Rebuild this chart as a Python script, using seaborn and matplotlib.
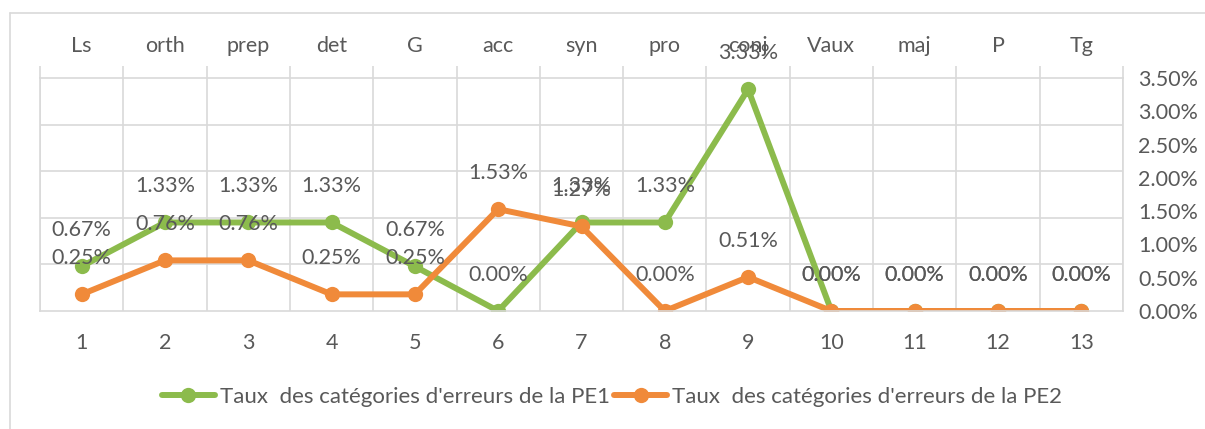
import numpy as np
import pandas as pd
import matplotlib
matplotlib.use("Agg")
import matplotlib.pyplot as plt
from matplotlib.lines import Line2D
from matplotlib.ticker import PercentFormatter
import seaborn as sns

# categories (top axis) and positions (bottom axis)
categories = ["Ls", "orth", "prep", "det", "G", "acc", "syn", "pro", "conj", "Vaux", "maj", "P", "Tg"]
positions = list(range(1, 14))

# rates, in %
pe1 = [0.67, 1.33, 1.33, 1.33, 0.67, 0.00, 1.33, 1.33, 3.33, 0.00, 0.00, 0.00, 0.00]
pe2 = [0.25, 0.76, 0.76, 0.25, 0.25, 1.53, 1.27, 0.00, 0.51, 0.00, 0.00, 0.00, 0.00]

series_names = ["Taux  des catégories d'erreurs de la PE1",
                "Taux  des catégories d'erreurs de la PE2"]

green = "#8cbb4c"
orange = "#f08a3a"
grey_txt = "#595959"
grid_col = "#d9d9d9"
fs = 15.5

df = pd.DataFrame({
    "pos": positions * 2,
    "taux": [v / 100 for v in pe1 + pe2],
    "serie": [series_names[0]] * 13 + [series_names[1]] * 13,
})

sns.set_style("white")
plt.rcParams["font.family"] = ["Lato", "DejaVu Sans"]
plt.rcParams["font.size"] = fs

fig = plt.figure(figsize=(12.05, 4.29), dpi=100)
ax = fig.add_axes([40 / 1205, 1 - 311 / 429, (1123 - 40) / 1205, (311 - 78) / 429])

sns.lineplot(data=df, x="pos", y="taux", hue="serie", palette=[green, orange],
             marker="o", markersize=11, markeredgewidth=0, linewidth=4.3,
             legend=False, ax=ax)

# data labels above the points
for vals in [pe1, pe2]:
    for x, v in zip(positions, vals):
        ax.annotate(f"{v:.2f}%", (x, v / 100), xytext=(0, 26), textcoords="offset points",
                    ha="center", va="center", color=grey_txt, fontsize=fs, zorder=5)

ax.set_xlim(0.5, 13.5)
ax.set_ylim(0, 0.035)

# bottom axis: numbers at centres, tick marks at boundaries
bounds = np.arange(0.5, 13.6, 1)
ax.set_xticks(positions)
ax.set_xticklabels([str(p) for p in positions])
ax.set_xticks(bounds, minor=True)
ax.tick_params(axis="x", which="major", length=0, pad=16, labelcolor=grey_txt, labelsize=fs)
ax.tick_params(axis="x", which="minor", length=9, width=1.2, color=grid_col, direction="out")

# right-hand percent axis
ax.yaxis.tick_right()
ax.set_yticks(np.arange(0, 0.0351, 0.005))
ax.yaxis.set_major_formatter(PercentFormatter(1.0, decimals=2))
ax.tick_params(axis="y", which="major", length=0, pad=11, labelcolor=grey_txt, labelsize=fs)
ax.set_yticks(np.arange(0, 0.0351, 0.007), minor=True)
ax.tick_params(axis="y", which="minor", length=0)

ax.grid(False)
ax.grid(True, which="minor", color=grid_col, linewidth=1.2)
for s in ax.spines.values():
    s.set_visible(True)
    s.set_color(grid_col)
    s.set_linewidth(1.2)
ax.set_xlabel("")
ax.set_ylabel("")

# top axis with category names
top = ax.secondary_xaxis("top")
top.set_xticks(positions)
top.set_xticklabels(categories)
top.set_xticks(bounds, minor=True)
top.tick_params(which="major", length=0, pad=16, labelcolor=grey_txt, labelsize=fs)
top.tick_params(which="minor", length=9, width=1.2, color=grid_col, direction="out")
for s in top.spines.values():
    s.set_visible(False)

# legend
handles = [Line2D([0], [0], color=c, linewidth=4.3, marker="o", markersize=11, markeredgewidth=0)
           for c in [green, orange]]
ax.legend(handles, series_names, loc="center", bbox_to_anchor=(0.528, -0.37), ncol=2,
          frameon=False, handlelength=2.4, handletextpad=0.2, columnspacing=0.2,
          labelcolor=grey_txt, fontsize=16)

# chart area border (left and top edges visible)
fig.add_artist(Line2D([10 / 1205, 10 / 1205], [0, 1 - 13 / 429], transform=fig.transFigure,
                      color=grid_col, linewidth=1.2))
fig.add_artist(Line2D([10 / 1205, 1], [1 - 13 / 429, 1 - 13 / 429], transform=fig.transFigure,
                      color=grid_col, linewidth=1.2))

fig.savefig("out.png", dpi=100, facecolor="white")
